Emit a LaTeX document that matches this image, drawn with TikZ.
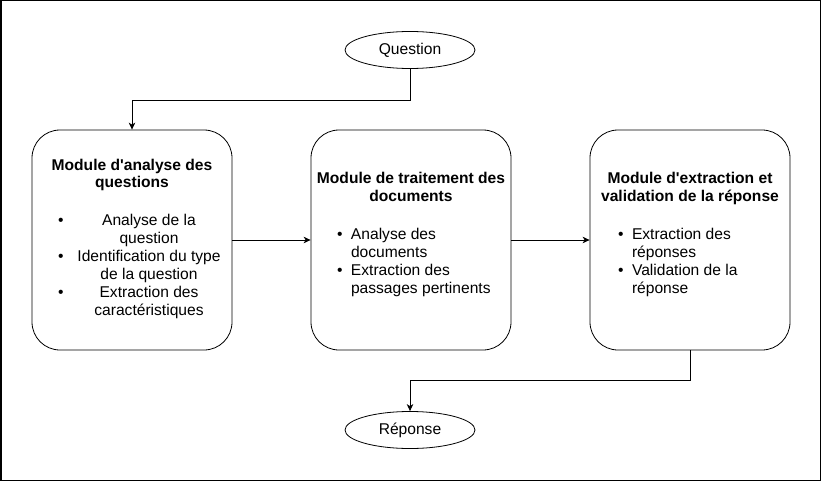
\documentclass[tikz,border=0pt]{standalone}
\usepackage{fontspec}
\setmainfont{Liberation Sans}
\usepackage{array}
\usetikzlibrary{arrows.meta,shapes.geometric}

\begin{document}
\begin{tikzpicture}[
        x=1pt, y=-1pt,
        font=\fontsize{15.6}{18}\selectfont,
        modulenode/.style={
            draw, rounded corners=28pt, minimum width=200pt, minimum height=220pt, inner sep=0pt, line width=0.8pt
        },
        endnode/.style={
            draw, ellipse, minimum width=130pt, minimum height=37pt, inner sep=0pt, line width=0.8pt
        },
        flow/.style={
            -{Stealth[length=7pt,width=6.5pt,inset=2pt]}, line width=0.9pt
        }
    ]
    \draw[line width=1.5pt] (0.75,0.75) rectangle (820.25,480.25);

    \node[endnode] (Q) at (410, 50) {Question};
    \node[endnode] (R) at (410, 430) {Réponse};

    \node[modulenode] (M1) at (132, 240) {%
        \begin{tabular}{@{\hspace{26pt}}p{14pt}@{}>{\centering\arraybackslash}p{154pt}@{\hspace{6pt}}}
        \multicolumn{2}{@{}c@{}}{\bfseries Module d\textquotesingle analyse des}\\[-1pt]
        \multicolumn{2}{@{}c@{}}{\bfseries questions}\\[20pt]
        \textbullet & Analyse de la\par question\\
        \textbullet & Identification du type\par de la question\\
        \textbullet & Extraction des\par caractéristiques\\[20pt]
        \end{tabular}};
    \node[modulenode] (M2) at (411, 240) {%
        \begin{tabular}{@{\hspace{26pt}}p{14pt}@{}>{\raggedright\arraybackslash}p{154pt}@{\hspace{6pt}}}
        \multicolumn{2}{@{}c@{}}{\bfseries Module de traitement des}\\
        \multicolumn{2}{@{}c@{}}{\bfseries documents}\\[20pt]
        \textbullet & Analyse des\par documents\\
        \textbullet & Extraction des\par passages pertinents\\[28pt]
        \end{tabular}};
    \node[modulenode] (M3) at (690, 240) {%
        \begin{tabular}{@{\hspace{28pt}}p{14pt}@{}>{\raggedright\arraybackslash}p{154pt}@{\hspace{4pt}}}
        \multicolumn{2}{@{}c@{}}{\bfseries Module d\textquotesingle extraction et}\\
        \multicolumn{2}{@{}c@{}}{\bfseries validation de la réponse}\\[20pt]
        \textbullet & Extraction des\par réponses\\
        \textbullet & Validation de la\par réponse\\[28pt]
        \end{tabular}};

    % connectors
    \draw[flow] (Q.south) -- ++(0, 32) -| (M1.north);
    \draw[flow] (M1.east) -- (M2.west);
    \draw[flow] (M2.east) -- (M3.west);
    \draw[flow] (M3.south) -- ++(0, 30) -| (R.north);
\end{tikzpicture}
\end{document}
